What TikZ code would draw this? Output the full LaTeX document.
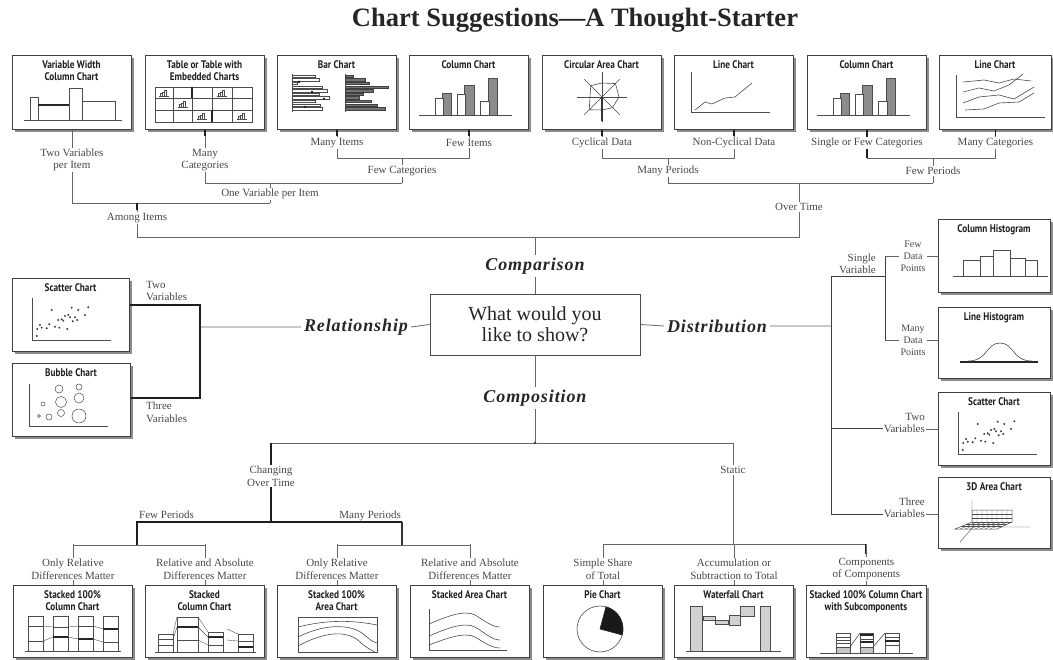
\documentclass[tikz,border=0pt]{standalone}
\usepackage{fontspec}
\setmainfont{Liberation Serif}
\newfontfamily\boxfont[FakeStretch=0.84]{PT Sans Bold}
\newfontfamily\catfont[LetterSpace=5]{Liberation Serif Bold Italic}
\usetikzlibrary{shadows,calc}
\tikzset{
  chartbox/.style={draw=black!75, line width=0.9pt, fill=white, anchor=north west,
     minimum width=119pt, minimum height=74pt, inner sep=0pt,
     drop shadow={shadow xshift=2.5pt, shadow yshift=-2.5pt, fill=black, opacity=0.45}},
  btitle/.style={font=\boxfont\fontsize{11}{12}\selectfont, align=center, anchor=north, inner sep=0pt, text=black!88},
  icon/.style={line width=0.6pt, draw=black!70},
  lab/.style={font=\fontsize{11}{12.5}\selectfont, text=black!72, align=center, inner sep=1pt},
  cat/.style={font=\catfont\fontsize{18}{20}\selectfont, text=black!85, inner sep=3pt},
  conn/.style={draw=black!60, line width=0.8pt},
  thk/.style={draw=black!88, line width=2pt},
  pics/colpic/.style={code={
    \draw[icon] (10,60) -- (103,60);
    \filldraw[icon, fill=black!45] (33,38) rectangle (42,60);
    \filldraw[icon, fill=white] (26,43) rectangle (34,60);
    \filldraw[icon, fill=black!45] (55,30) rectangle (65,60);
    \filldraw[icon, fill=white] (48,39) rectangle (56,60);
    \filldraw[icon, fill=black!45] (79,23) rectangle (88,60);
    \filldraw[icon, fill=white] (71,46) rectangle (80,60);
  }},
  pics/scatpic/.style={code={
    \draw[icon] (20,20) -- (20,62) -- (99,62);
    \foreach \x/\y in {39.7/32,59.7/29.7,66.3/32,76.3/29.3,56.3/37,53/38,58/39.3,49.7/41.3,46.3/42,63/39.3,65.3/42,73/37,37.3/46.3,43/48.7,47.3/49.7,55.3/51,25.3/51,29.7/49.7,28/47,34.7/50.3,24.7/58,51.3/42.7,60.7/43.3}
      \fill[black!75] (\x,\y) circle (1.1);
  }},
  pics/minib/.style={code={
    \draw[line width=0.4pt, black!70] (-5,3) -- (5,3);
    \draw[line width=0.4pt, black!70] (-3.5,3) rectangle (-1.5,0) (-1.5,3) rectangle (0.5,-1) (0.5,3) rectangle (2.5,-3);
  }}
}
\begin{document}
\begin{tikzpicture}[x=1pt,y=-1pt]
\useasboundingbox (0,0) rectangle (1053,660);

\node[font=\fontsize{26.5}{28}\selectfont\bfseries, text=black!85] (title) at (575,20) {Chart Suggestions—A Thought-Starter};

% ---------- top row boxes ----------
\node[chartbox] (t1) at (12,55) {};
\node[chartbox] (t2) at (145,55) {};
\node[chartbox] (t3) at (277,55) {};
\node[chartbox] (t4) at (409,55) {};
\node[chartbox] (t5) at (542,55) {};
\node[chartbox] (t6) at (674,55) {};
\node[chartbox] (t7) at (807,55) {};
\node[chartbox, minimum width=112pt] (t8) at (939,55) {};

\begin{scope}[shift={(t1.north west)}]
  \node[btitle] (t1t) at (59.5,5) {Variable Width\\Column Chart};
  \draw[icon] (12,65) -- (110,65);
  \draw[icon] (18,42) rectangle (26,65) (26,50) rectangle (57,65) (57,33) rectangle (70,65) (70,46) rectangle (103,65);
  \draw[line width=1.6pt, black!85] (26,50) -- (57,50);
\end{scope}

\begin{scope}[shift={(t2.north west)}]
  \node[btitle] (t2t) at (59.5,5) {Table or Table with\\Embedded Charts};
  \draw[icon] (10,32) rectangle (107,67);
  \foreach \x in {28,47,67,87} \draw[icon] (\x,32) -- (\x,67);
  \foreach \y in {43,55} \draw[icon] (10,\y) -- (107,\y);
  \draw[line width=1.3pt, black!85] (47,32) -- (47,43) (67,55) -- (67,67);
  \pic at (19,38) {minib};
  \pic at (77,38) {minib};
  \pic at (37.5,49.5) {minib};
  \pic at (57,61) {minib};
  \pic at (97,61) {minib};
\end{scope}

\begin{scope}[shift={(t3.north west)}]
  \node[btitle] (t3t) at (59.5,5) {Bar Chart};
  \draw[icon, line width=0.4pt] (15,19) -- (15,57);
  \foreach \i/\l in {0/23,1/27,2/5,3/30,4/35,5/27,6/37,7/23,8/28,9/30}
    \draw[icon, line width=0.4pt] (15,20+3.6*\i) rectangle ++(\l,2.4);
  \fill[black!85] (21,26) rectangle ++(2,2) (34,36) rectangle ++(2,2) (46,43) rectangle ++(2,2) (27,51) rectangle ++(2,2);
  \draw[icon, line width=0.4pt] (68,19) -- (68,57);
  \foreach \i/\l in {0/8,1/20,2/24,3/43,4/28,5/18,6/14,7/26,8/32,9/40}
    \filldraw[draw=black!75, fill=black!55, line width=0.4pt] (68,20+3.6*\i) rectangle ++(\l,2.4);
\end{scope}

\begin{scope}[shift={(t4.north west)}]
  \node[btitle] (t4t) at (59.5,5) {Column Chart};
\end{scope}
\pic at (t4.north west) {colpic};

\begin{scope}[shift={(t5.north west)}]
  \node[btitle] (t5t) at (59.5,5) {Circular Area Chart};
  \foreach \a in {0,45,...,315} \draw[icon, line width=0.4pt] (60,42) -- ++(\a:25);
  \draw[icon] (60,42) +(0:17) -- +(45:15) -- +(90:13) -- +(135:18) -- +(180:12) -- +(225:16) -- +(270:14) -- +(315:19) -- cycle;
  \draw[line width=1.3pt, black!80] (60,42) -- (60,66);
\end{scope}

\begin{scope}[shift={(t6.north west)}]
  \node[btitle] (t6t) at (59.5,5) {Line Chart};
  \draw[icon, line width=0.4pt] (17,17) -- (17,57) -- (96,57);
  \draw[icon] (21,55) -- (31,47) -- (38,49) -- (51,43) -- (61,42) -- (78,28);
\end{scope}

\begin{scope}[shift={(t7.north west)}]
  \node[btitle] (t7t) at (59.5,5) {Column Chart};
\end{scope}
\pic at (t7.north west) {colpic};

\begin{scope}[shift={(t8.north west)}]
  \node[btitle] (t8t) at (56,5) {Line Chart};
  \draw[icon, line width=0.4pt] (17,20) -- (17,62) -- (106,62);
  \draw[icon] (24,27) -- (45,25) -- (60,28) -- (75,24) -- (92,26);
  \draw[icon] (24,37) -- (40,33) -- (55,36) -- (70,30) -- (84,19);
  \draw[icon] (24,48) -- (40,42) -- (60,40) -- (75,44) -- (95,32);
  \draw[icon] (26,55) -- (45,54) -- (60,48) -- (80,47) -- (95,38);
\end{scope}

% ---------- top row labels and connectors ----------
\node[lab] (l1) at (t1.south |- 0,160) {Two Variables\\per Item};
\node[lab] (l2) at (t2.south |- 0,160) {Many\\Categories};
\node[lab] (l3) at (t3.south |- 0,143) {Many Items};
\node[lab] (l4) at (t4.south |- 0,143) {Few Items};
\node[lab] (l5) at (t5.south |- 0,143) {Cyclical Data};
\node[lab] (l6) at (t6.south |- 0,143) {Non-Cyclical Data};
\node[lab] (l7) at (t7.south |- 0,143) {Single or Few Categories};
\node[lab] (l8) at (t8.south |- 0,143) {Many Categories};
\node[lab] (fc) at (402,171) {Few Categories};
\node[lab] (ovi) at (270,194) {One Variable per Item};
\node[lab] (ai) at (137,218) {Among Items};
\node[lab] (mp) at (668,171) {Many Periods};
\node[lab] (fp) at (933,171) {Few Periods};
\node[lab] (ot) at (799,207) {Over Time};

\coordinate (j1) at (t1.south |- 0,203);
\coordinate (j2) at (270,203);
\coordinate (j3) at (137,203);
\coordinate (j4) at (t2.south |- 0,183);
\coordinate (j5) at (270,183);
\coordinate (j6) at (402,183);
\coordinate (j7) at (t3.south |- 0,158);
\coordinate (j8) at (t4.south |- 0,158);
\coordinate (j9) at (402,158);
\coordinate (k1) at (t5.south |- 0,158);
\coordinate (k2) at (t6.south |- 0,158);
\coordinate (k3) at (668,158);
\coordinate (k4) at (668,183);
\coordinate (k6) at (t7.south |- 0,158);
\coordinate (k7) at (t8.south |- 0,158);
\coordinate (k8) at (933,158);
\coordinate (k5) at (933,183);
\coordinate (k9) at (799,183);
\coordinate (c1) at (137,237);
\coordinate (c2) at (799,237);

% ---------- center ----------
\node[draw=black!70, line width=0.9pt, minimum width=210pt, minimum height=61pt, align=center,
      font=\fontsize{20}{21}\selectfont, text=black!85, inner sep=0pt] (q) at (535,324.5) {What would you\\like to show?};
\coordinate (c3) at (q.north |- 0,237);
\node[cat] (cmp) at (q.north |- 0,266) {Comparison};
\node[cat] (cps) at (q.south |- 0,398) {Composition};
\node[cat] (rel) at (356,327) {Relationship};
\node[cat] (dist) at (717,326) {Distribution};

\draw[conn] (t1.south) -- (l1.north) (l1.south) -- (j1) -- (j2);
\draw[conn] (j3) -- (ai.north) (ai.south) -- (c1);
\draw[conn] (t2.south) -- (l2.north) (l2.south) -- (j4) -- (j6);
\draw[conn] (j5) -- (ovi.north) (ovi.south) -- (j2);
\draw[conn] (t3.south) -- (l3.north) (l3.south) -- (j7) -- (j8) -- (l4.south) (l4.north) -- (t4.south);
\draw[conn] (j9) -- (fc.north) (fc.south) -- (j6);
\draw[conn] (t5.south) -- (l5.north) (l5.south) -- (k1) -- (k2) -- (l6.south) (l6.north) -- (t6.south);
\draw[conn] (k3) -- (mp.north) (mp.south) -- (k4) -- (k5);
\draw[thk] (t7.south) -- (l7.north) (l7.south) -- (k6);
\draw[conn] (k6) -- (k7) -- (l8.south) (l8.north) -- (t8.south);
\draw[conn] (k8) -- (fp.north) (fp.south) -- (k5);
\draw[conn] (k9) -- (ot.north) (ot.south) -- (c2) -- (c1);
\draw[conn] (c3) -- (cmp.north) (cmp.south) -- (q.north);
\draw[thk, line width=1.6pt] (j3) -- ++(0,7);
\foreach \t in {t2,t3,t4,t5,t6,t8} \draw[thk, line width=1.6pt] (\t.south) -- ++(0,6);

% ---------- relationship ----------
\node[chartbox, minimum width=117pt, minimum height=73pt] (sc) at (12,278) {};
\node[chartbox, minimum width=118pt, minimum height=73pt] (bu) at (12,363) {};
\begin{scope}[shift={(sc.north west)}]
  \node[btitle] (sct) at (58.5,5) {Scatter Chart};
\end{scope}
\pic at (sc.north west) {scatpic};
\begin{scope}[shift={(bu.north west)}]
  \node[btitle] (but) at (59,5) {Bubble Chart};
  \draw[icon, line width=0.4pt] (17,21) -- (17,63) -- (96,63);
  \draw[icon, line width=0.5pt] (47,26) circle (4) (67,24) circle (3) (49,39) circle (5.5) (67,35) circle (5)
     (31,41) circle (2) (49,50) circle (3.5) (37,54) circle (3) (27,53) circle (1.5) (67,53) circle (7);
\end{scope}
\coordinate (r1) at (200,327);
\coordinate (r2) at (200,305);
\coordinate (r3) at (200,398);
\draw[conn] (q.west) -- (rel.east) (rel.west) -- (r1);
\draw[thk] (sc.east |- r2) -- (r2) -- (r3) -- (bu.east |- r3);
\node[lab, anchor=south west, align=left] (rl2) at (145,302) {Two\\Variables};
\node[lab, anchor=north west, align=left] (rl3) at (145,401) {Three\\Variables};

% ---------- distribution ----------
\node[chartbox, minimum width=112pt, minimum height=73pt] (ch) at (938,219) {};
\node[chartbox, minimum width=112pt, minimum height=71pt] (lh) at (938,307) {};
\node[chartbox, minimum width=112pt, minimum height=73pt] (sc2) at (938,392) {};
\node[chartbox, minimum width=112pt, minimum height=71pt] (ad) at (938,477) {};
\begin{scope}[shift={(ch.north west)}]
  \node[btitle] (cht) at (56,5) {Column Histogram};
  \draw[icon] (15,57) -- (110,57);
  \draw[icon] (25,41) rectangle (42,57) (42,37) rectangle (55,57) (55,31) rectangle (72,57) (72,39) rectangle (87,57) (87,41) rectangle (99,57);
\end{scope}
\begin{scope}[shift={(lh.north west)}]
  \node[btitle] (lht) at (56,5) {Line Histogram};
  \draw[line width=2pt, black!85] (22,55) -- (100,55);
  \draw[icon] (30,54) .. controls (50,54) and (48,36) .. (62,36) .. controls (76,36) and (74,54) .. (94,54);
\end{scope}
\begin{scope}[shift={(sc2.north west)}]
  \node[btitle] (sc2t) at (56,5) {Scatter Chart};
\end{scope}
\pic at (sc2.north west) {scatpic};
\begin{scope}[shift={(ad.north west)}]
  \node[btitle] (adt) at (56,5) {3D Area Chart};
  \draw[icon, line width=0.4pt] (34,23) -- (34,48) (60,50) -- (92,50) (22,65) -- (36,49);
  \draw[icon, line width=0.5pt] (34,33) -- (74,33) -- (74,45) -- (59,52) -- (17,52) -- (34,45) -- cycle;
  \draw[icon, line width=0.5pt] (34,45) -- (74,45);
  \foreach \x in {39,44,...,69} \draw[icon, line width=0.3pt] (\x,33) -- (\x,45) -- ($(\x,45)+(-17,7)$);
  \foreach \y in {37,41} \draw[icon, line width=0.3pt] (34,\y) -- (74,\y);
  \foreach \t in {0.33,0.66} \draw[icon, line width=0.3pt] ($(34,45)!\t!(17,52)$) -- ($(74,45)!\t!(59,52)$);
\end{scope}

\coordinate (d0) at (831,326);
\coordinate (d1) at (831,277);
\coordinate (d2) at (885,277);
\coordinate (d3) at (831,429);
\coordinate (d4) at (831,514);
\coordinate (d5) at (885,256);
\coordinate (d6) at (885,340);
\node[lab, anchor=south east, align=right] (sv) at (877,275) {Single\\Variable};
\node[lab, font=\fontsize{10}{12}\selectfont] (fdp) at (913,256) {Few\\Data\\Points};
\node[lab, font=\fontsize{10}{12}\selectfont] (mdp) at (913,340) {Many\\Data\\Points};
\node[lab, anchor=east, align=right] (tv) at (926,423) {Two\\Variables};
\node[lab, anchor=east, align=right] (thv) at (926,508) {Three\\Variables};
\draw[conn] (q.east) -- (dist.west) (dist.east) -- (d0);
\draw[conn, draw=black!75, line width=1pt] (d1) -- (d4) (d1) -- (d2) (d5) -- (d6);
\draw[conn] (d5) -- (fdp.west) (fdp.east) -- (ch.west |- fdp.east);
\draw[conn] (d6) -- (mdp.west) (mdp.east) -- (lh.west |- mdp.east);
\draw[conn, draw=black!75, line width=1pt] (d3) -- (tv.west |- d3) (d4) -- (thv.west |- d4);
\draw[conn] (tv.east |- d3) -- (sc2.west |- d3) (thv.east |- d4) -- (ad.west |- d4);

% ---------- composition ----------
\node[chartbox, minimum height=72pt] (b1) at (13,585) {};
\node[chartbox, minimum height=72pt] (b2) at (145,585) {};
\node[chartbox, minimum height=72pt] (b3) at (277,585) {};
\node[chartbox, minimum height=72pt] (b4) at (410,585) {};
\node[chartbox, minimum height=72pt] (b5) at (543,585) {};
\node[chartbox, minimum height=72pt] (b6) at (674,585) {};
\node[chartbox, minimum height=72pt, minimum width=120pt] (b7) at (806,585) {};

\begin{scope}[shift={(b1.north west)}]
  \node[btitle] (b1t) at (59.5,5) {Stacked 100\%\\Column Chart};
  \draw[icon] (12,66) -- (108,66);
  \foreach \x in {15,40,65,90} \draw[icon] (\x,31) rectangle (\x+15,66);
  \draw[icon] (15,41) -- (30,41) (15,56) -- (30,56) (40,42) -- (55,42) (65,41) -- (80,41) (90,57) -- (105,57);
  \draw[line width=1.5pt, black!85] (40,52) -- (55,52) (65,54) -- (80,54) (90,44) -- (105,44);
  \draw[icon, line width=0.4pt] (30,41) -- (40,42) (55,42) -- (65,41) (80,41) -- (90,44) (30,56) -- (40,52) (55,52) -- (65,54) (80,54) -- (90,57);
\end{scope}

\begin{scope}[shift={(b2.north west)}]
  \node[btitle] (b2t) at (59.5,5) {Stacked\\Column Chart};
  \draw[icon] (10,67) -- (111,67);
  \draw[icon] (13,49) rectangle (28,67) (32,32) rectangle (53,67) (63,47) rectangle (78,67) (93,49) rectangle (108,67);
  \draw[icon] (13,54) -- (28,54) (13,60) -- (28,60) (32,55) -- (53,55) (63,60) -- (78,60) (93,56) -- (108,56);
  \draw[line width=1.5pt, black!85] (32,42) -- (53,42) (63,52) -- (78,52) (93,62) -- (108,62);
  \draw[icon, line width=0.4pt] (28,49) -- (32,32) (28,54) -- (32,42) (53,32) -- (63,47) (53,42) -- (63,52) (53,55) -- (63,60) (82,44) -- (93,49) (82,55) -- (93,56);
\end{scope}

\begin{scope}[shift={(b3.north west)}]
  \node[btitle] (b3t) at (59.5,5) {Stacked 100\%\\Area Chart};
  \draw[icon, line width=0.5pt] (21,32) rectangle (100,67);
  \draw[icon] (21,42) .. controls (45,36) and (70,34) .. (100,40);
  \draw[icon] (21,52) .. controls (45,40) and (70,38) .. (85,48) .. controls (90,52) and (95,57) .. (100,58);
  \draw[icon] (21,61) .. controls (45,48) and (68,44) .. (82,56) .. controls (88,62) and (94,65) .. (98,67);
\end{scope}

\begin{scope}[shift={(b4.north west)}]
  \node[btitle] (b4t) at (59.5,5) {Stacked Area Chart};
  \draw[icon] (19,24) -- (19,65) -- (97,65);
  \draw[icon] (19,39) .. controls (40,30) and (55,25) .. (65,30) .. controls (75,36) and (82,42) .. (90,42);
  \draw[icon] (19,51) .. controls (40,42) and (55,37) .. (65,42) .. controls (75,48) and (82,55) .. (90,55);
  \draw[icon] (19,60) .. controls (40,52) and (55,47) .. (65,52) .. controls (75,58) and (82,63) .. (90,63);
\end{scope}

\begin{scope}[shift={(b5.north west)}]
  \node[btitle] (b5t) at (59.5,5) {Pie Chart};
  \draw[icon] (57,44) circle (23);
  \filldraw[draw=black!85, fill=black!90, line width=0.6pt] (57,44) -- ++(-75:23) arc[start angle=-75, end angle=15, radius=23] -- cycle;
\end{scope}

\begin{scope}[shift={(b6.north west)}]
  \node[btitle] (b6t) at (59.5,5) {Waterfall Chart};
  \draw[icon] (12,66) -- (107,66);
  \filldraw[icon, fill=black!18] (16,21) rectangle (28,66) (29,31) rectangle (41,35) (41,35) rectangle (54,39) (55,30) rectangle (66,40) (66,21) rectangle (80,31) (86,21) rectangle (96,66);
\end{scope}

\begin{scope}[shift={(b7.north west)}]
  \node[btitle] (b7t) at (60,5) {Stacked 100\% Column Chart\\with Subcomponents};
  \draw[icon] (14,68) -- (107,68);
  \filldraw[icon, fill=black!22] (30,62) rectangle (44,68) (54,62) rectangle (67,68);
  \draw[icon] (30,48) rectangle (44,68) (54,48) rectangle (67,68) (79,48) rectangle (93,68);
  \draw[icon, line width=0.4pt] (30,52) -- (44,52) (30,55) -- (44,55) (30,58) -- (44,58) (54,54) -- (67,54) (79,52) -- (93,52) (79,60) -- (93,60);
  \draw[line width=1.3pt, black!85] (54,50) -- (67,50) (54,57) -- (67,57) (79,56) -- (93,56);
  \draw[icon] (44,62) -- (54,48) (67,62) -- (79,48);
\end{scope}

\coordinate (m0) at (q.south |- 0,443);
\coordinate (m1) at (271,443);
\coordinate (m2) at (733,443);
\coordinate (m3) at (271,522);
\coordinate (m4) at (137,522);
\coordinate (m5) at (402,522);
\coordinate (m6) at (137,545);
\coordinate (m7) at (402,545);
\coordinate (m8) at (733,544);
\node[lab] (cot) at (271,476) {Changing\\Over Time};
\node[lab, anchor=base west] (fpl) at (138,518) {Few Periods};
\node[lab, anchor=base east] (mpl) at (402,518) {Many Periods};
\node[lab] (st) at (733,470) {Static};
\node[lab] (bl1) at (b1.north |- 0,569) {Only Relative\\Differences Matter};
\node[lab] (bl2) at (b2.north |- 0,569) {Relative and Absolute\\Differences Matter};
\node[lab] (bl3) at (b3.north |- 0,569) {Only Relative\\Differences Matter};
\node[lab] (bl4) at (b4.north |- 0,569) {Relative and Absolute\\Differences Matter};
\node[lab] (bl5) at (b5.north |- 0,569) {Simple Share\\of Total};
\node[lab] (bl6) at (b6.north |- 0,569) {Accumulation or\\Subtraction to Total};
\node[lab] (bl7) at (b7.north |- 0,569) {Components\\of Components};

\draw[conn] (q.south) -- (cps.north) (cps.south) -- (m0);
\draw[conn] (m1) -- (m2);
\fill[black!75] (m0) circle (1.4);
\draw[thk] (m1) -- (cot.north) (cot.south) -- (m3);
\draw[thk] (m6) -- (m4) -- (m5);
\draw[conn, draw=black!80, line width=1.2pt] (m5) -- (m7);
\draw[conn] (b1.north |- m6) -- (b2.north |- m6) (b3.north |- m7) -- (b4.north |- m7);
\draw[conn] (m2) -- (st.north) (st.south) -- (m8);
\draw[conn] (b5.north |- m8) -- (b7.north |- m8);
\draw[thk] (b7.north |- m8) -- ++(0,10);
\foreach \i/\b in {1/b1,2/b2,3/b3,4/b4,5/b5,6/b6,7/b7}
  \draw[conn] (\b.north |- m8) -- (bl\i.north) (bl\i.south) -- (\b.north);
\end{tikzpicture}
\end{document}
